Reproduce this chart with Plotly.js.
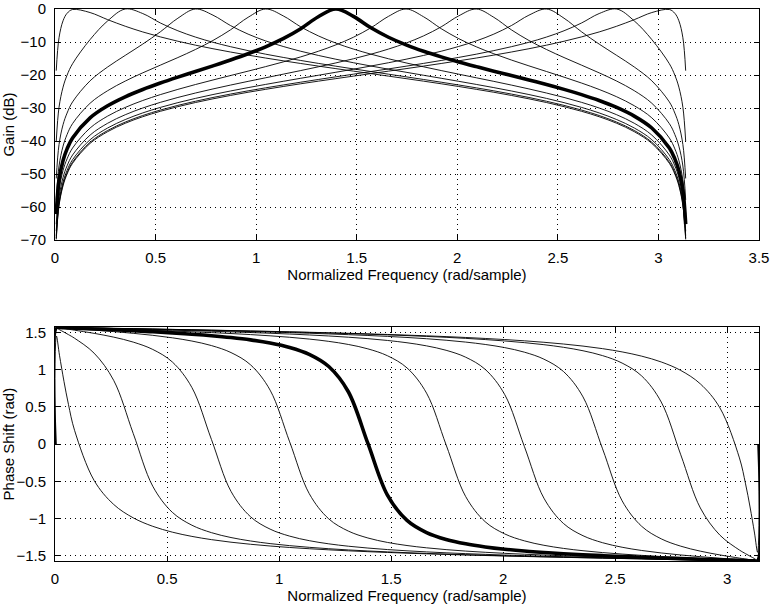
<!DOCTYPE html>
<html>
<head>
<meta charset="utf-8">
<script src="https://cdn.plot.ly/plotly-3.0.1.min.js"></script>
<style>html,body{margin:0;padding:0;background:#fff;}#chart{width:770px;height:604px;}</style>
</head>
<body>
<div id="chart"></div>
<script>
// Normalized frequency samples (rad/sample)
const freq = [0, 0.00614, 0.02, 0.04, 0.06, 0.0873, 0.1745, 0.2618, 0.3491, 0.4363, 0.5236, 0.6109, 0.6981, 0.7854, 0.8727, 0.9599, 1.0472, 1.1345, 1.2217, 1.3090, 1.3963, 1.4835, 1.5708, 1.6581, 1.7453, 1.8326, 1.9199, 2.0071, 2.0944, 2.1817, 2.2689, 2.3562, 2.4435, 2.5307, 2.6180, 2.7053, 2.7925, 2.8798, 2.9671, 3.0543, 3.0816, 3.1016, 3.1216, 3.1355, 3.1416];

// Gain (dB) of the ten band-pass filters (null = -Inf, not drawn)
const gainK0 = [null, -18.69, -8.71, -3.56, -1.31, -0.15, -1.08, -3.23, -5.22, -6.95, -8.45, -9.77, -10.96, -12.04, -13.04, -13.97, -14.86, -15.70, -16.51, -17.30, -18.07, -18.83, -19.58, -20.34, -21.10, -21.87, -22.66, -23.48, -24.34, -25.23, -26.19, -27.22, -28.34, -29.59, -31.00, -32.64, -34.63, -37.17, -40.72, -46.76, -50.02, -53.54, -59.56, -69.82, null];
const gainK1 = [null, -40.06, -29.77, -23.68, -20.05, -16.58, -9.26, -3.60, 0.00, -1.38, -4.23, -6.60, -8.50, -10.08, -11.42, -12.61, -13.69, -14.67, -15.60, -16.48, -17.33, -18.15, -18.95, -19.75, -20.55, -21.36, -22.18, -23.02, -23.89, -24.80, -25.77, -26.81, -27.95, -29.20, -30.62, -32.27, -34.27, -36.81, -40.36, -46.40, -49.66, -53.18, -59.20, -69.46, null];
const gainK2 = [null, -51.34, -41.08, -35.06, -31.54, -28.16, -21.76, -17.57, -14.06, -10.63, -6.92, -2.79, 0.00, -1.87, -5.02, -7.61, -9.67, -11.35, -12.80, -14.07, -15.22, -16.28, -17.28, -18.24, -19.17, -20.08, -20.99, -21.91, -22.85, -23.82, -24.84, -25.92, -27.09, -28.37, -29.82, -31.49, -33.50, -36.05, -39.61, -45.66, -48.92, -52.44, -58.46, -68.72, null];
const gainK3 = [null, -57.84, -47.58, -41.56, -38.04, -34.73, -28.55, -24.75, -21.84, -19.34, -17.02, -14.71, -12.27, -9.54, -6.31, -2.52, 0.00, -2.08, -5.41, -8.14, -10.33, -12.14, -13.69, -15.08, -16.34, -17.52, -18.65, -19.75, -20.84, -21.93, -23.05, -24.22, -25.46, -26.80, -28.29, -30.00, -32.04, -34.62, -38.20, -44.25, -47.52, -51.04, -57.06, -67.32, null];
const gainK4 = [null, -62.17, -51.91, -45.89, -42.37, -39.09, -32.98, -29.31, -26.60, -24.38, -22.44, -20.65, -18.94, -17.23, -15.46, -13.57, -11.45, -8.98, -5.96, -2.36, 0.00, -2.22, -5.69, -8.56, -10.87, -12.81, -14.51, -16.04, -17.46, -18.83, -20.16, -21.51, -22.89, -24.35, -25.94, -27.73, -29.83, -32.45, -36.06, -42.13, -45.40, -48.92, -54.94, -65.20, null];
const gainK5 = [null, -65.20, -54.94, -48.92, -45.40, -42.13, -36.06, -32.45, -29.83, -27.73, -25.94, -24.35, -22.89, -21.51, -20.16, -18.83, -17.46, -16.04, -14.51, -12.81, -10.87, -8.56, -5.69, -2.22, 0.00, -2.36, -5.96, -8.98, -11.45, -13.57, -15.46, -17.23, -18.94, -20.65, -22.44, -24.38, -26.60, -29.31, -32.98, -39.09, -42.37, -45.89, -51.91, -62.17, null];
const gainK6 = [null, -67.32, -57.06, -51.04, -47.52, -44.25, -38.20, -34.62, -32.04, -30.00, -28.29, -26.80, -25.46, -24.22, -23.05, -21.93, -20.84, -19.75, -18.65, -17.52, -16.34, -15.08, -13.69, -12.14, -10.33, -8.14, -5.41, -2.08, 0.00, -2.52, -6.31, -9.54, -12.27, -14.71, -17.02, -19.34, -21.84, -24.75, -28.55, -34.73, -38.04, -41.56, -47.58, -57.84, null];
const gainK7 = [null, -68.72, -58.46, -52.44, -48.92, -45.66, -39.61, -36.05, -33.50, -31.49, -29.82, -28.37, -27.09, -25.92, -24.84, -23.82, -22.85, -21.91, -20.99, -20.08, -19.17, -18.24, -17.28, -16.28, -15.22, -14.07, -12.80, -11.35, -9.67, -7.61, -5.02, -1.87, 0.00, -2.79, -6.92, -10.63, -14.06, -17.57, -21.76, -28.16, -31.54, -35.06, -41.08, -51.34, null];
const gainK8 = [null, -69.46, -59.20, -53.18, -49.66, -46.40, -40.36, -36.81, -34.27, -32.27, -30.62, -29.20, -27.95, -26.81, -25.77, -24.80, -23.89, -23.02, -22.18, -21.36, -20.55, -19.75, -18.95, -18.15, -17.33, -16.48, -15.60, -14.67, -13.69, -12.61, -11.42, -10.08, -8.50, -6.60, -4.23, -1.38, 0.00, -3.60, -9.26, -16.58, -20.05, -23.68, -29.77, -40.06, null];
const gainK9 = [null, -69.82, -59.56, -53.54, -50.02, -46.76, -40.72, -37.17, -34.63, -32.64, -31.00, -29.59, -28.34, -27.22, -26.19, -25.23, -24.34, -23.48, -22.66, -21.87, -21.10, -20.34, -19.58, -18.83, -18.07, -17.30, -16.51, -15.70, -14.86, -13.97, -13.04, -12.04, -10.96, -9.77, -8.45, -6.95, -5.22, -3.23, -1.08, -0.15, -1.31, -3.56, -8.71, -18.69, null];

// Phase shift (rad) of the same filters
const phaseK0 = [0, 1.4543, 1.1952, 0.8444, 0.5344, 0.1858, -0.4876, -0.8102, -0.9907, -1.1046, -1.1829, -1.2400, -1.2836, -1.3180, -1.3460, -1.3693, -1.3890, -1.4059, -1.4207, -1.4338, -1.4455, -1.4561, -1.4656, -1.4744, -1.4825, -1.4901, -1.4971, -1.5038, -1.5100, -1.5160, -1.5217, -1.5272, -1.5325, -1.5376, -1.5426, -1.5475, -1.5522, -1.5569, -1.5616, -1.5662, -1.5676, -1.5687, -1.5698, -1.5705, 0];
const phaseK1 = [0, 1.5610, 1.5387, 1.5060, 1.4723, 1.4236, 1.2232, 0.8579, 0.1436, -0.5661, -0.9168, -1.0897, -1.1898, -1.2553, -1.3018, -1.3369, -1.3645, -1.3870, -1.4058, -1.4219, -1.4358, -1.4480, -1.4589, -1.4688, -1.4778, -1.4860, -1.4937, -1.5008, -1.5075, -1.5139, -1.5199, -1.5256, -1.5311, -1.5365, -1.5417, -1.5467, -1.5516, -1.5565, -1.5613, -1.5661, -1.5675, -1.5686, -1.5697, -1.5705, 0];
const phaseK2 = [0, 1.5681, 1.5620, 1.5532, 1.5444, 1.5318, 1.4892, 1.4385, 1.3716, 1.2729, 1.1043, 0.7610, 0.0626, -0.6351, -0.9766, -1.1423, -1.2366, -1.2974, -1.3400, -1.3719, -1.3968, -1.4170, -1.4339, -1.4482, -1.4607, -1.4718, -1.4817, -1.4907, -1.4989, -1.5065, -1.5136, -1.5203, -1.5267, -1.5327, -1.5386, -1.5442, -1.5497, -1.5551, -1.5604, -1.5656, -1.5672, -1.5684, -1.5696, -1.5704, 0];
const phaseK3 = [0, 1.5695, 1.5666, 1.5624, 1.5583, 1.5525, 1.5334, 1.5129, 1.4898, 1.4628, 1.4294, 1.3859, 1.3249, 1.2308, 1.0661, 0.7260, 0.0304, -0.6651, -1.0047, -1.1687, -1.2616, -1.3211, -1.3627, -1.3937, -1.4179, -1.4375, -1.4538, -1.4677, -1.4799, -1.4907, -1.5004, -1.5093, -1.5174, -1.5251, -1.5323, -1.5392, -1.5458, -1.5522, -1.5585, -1.5647, -1.5666, -1.5680, -1.5694, -1.5704, 0];
const phaseK4 = [0, 1.5700, 1.5683, 1.5657, 1.5632, 1.5597, 1.5483, 1.5366, 1.5240, 1.5104, 1.4952, 1.4779, 1.4576, 1.4328, 1.4014, 1.3595, 1.2999, 1.2071, 1.0433, 0.7042, 0.0093, -0.6856, -1.0246, -1.1882, -1.2807, -1.3400, -1.3815, -1.4123, -1.4365, -1.4561, -1.4725, -1.4866, -1.4990, -1.5102, -1.5203, -1.5297, -1.5385, -1.5470, -1.5551, -1.5630, -1.5654, -1.5672, -1.5690, -1.5703, 0];
const phaseK5 = [0, 1.5703, 1.5690, 1.5672, 1.5654, 1.5630, 1.5551, 1.5470, 1.5385, 1.5297, 1.5203, 1.5102, 1.4990, 1.4866, 1.4725, 1.4561, 1.4365, 1.4123, 1.3815, 1.3400, 1.2807, 1.1882, 1.0246, 0.6856, -0.0093, -0.7042, -1.0433, -1.2071, -1.2999, -1.3595, -1.4014, -1.4328, -1.4576, -1.4779, -1.4952, -1.5104, -1.5240, -1.5366, -1.5483, -1.5597, -1.5632, -1.5657, -1.5683, -1.5700, 0];
const phaseK6 = [0, 1.5704, 1.5694, 1.5680, 1.5666, 1.5647, 1.5585, 1.5522, 1.5458, 1.5392, 1.5323, 1.5251, 1.5174, 1.5093, 1.5004, 1.4907, 1.4799, 1.4677, 1.4538, 1.4375, 1.4179, 1.3937, 1.3627, 1.3211, 1.2616, 1.1687, 1.0047, 0.6651, -0.0304, -0.7260, -1.0661, -1.2308, -1.3249, -1.3859, -1.4294, -1.4628, -1.4898, -1.5129, -1.5334, -1.5525, -1.5583, -1.5624, -1.5666, -1.5695, 0];
const phaseK7 = [0, 1.5704, 1.5696, 1.5684, 1.5672, 1.5656, 1.5604, 1.5551, 1.5497, 1.5442, 1.5386, 1.5327, 1.5267, 1.5203, 1.5136, 1.5065, 1.4989, 1.4907, 1.4817, 1.4718, 1.4607, 1.4482, 1.4339, 1.4170, 1.3968, 1.3719, 1.3400, 1.2974, 1.2366, 1.1423, 0.9766, 0.6351, -0.0626, -0.7610, -1.1043, -1.2729, -1.3716, -1.4385, -1.4892, -1.5318, -1.5444, -1.5532, -1.5620, -1.5681, 0];
const phaseK8 = [0, 1.5705, 1.5697, 1.5686, 1.5675, 1.5661, 1.5613, 1.5565, 1.5516, 1.5467, 1.5417, 1.5365, 1.5311, 1.5256, 1.5199, 1.5139, 1.5075, 1.5008, 1.4937, 1.4860, 1.4778, 1.4688, 1.4589, 1.4480, 1.4358, 1.4219, 1.4058, 1.3870, 1.3645, 1.3369, 1.3018, 1.2553, 1.1898, 1.0897, 0.9168, 0.5661, -0.1436, -0.8579, -1.2232, -1.4236, -1.4723, -1.5060, -1.5387, -1.5610, 0];
const phaseK9 = [0, 1.5705, 1.5698, 1.5687, 1.5676, 1.5662, 1.5616, 1.5569, 1.5522, 1.5475, 1.5426, 1.5376, 1.5325, 1.5272, 1.5217, 1.5160, 1.5100, 1.5038, 1.4971, 1.4901, 1.4825, 1.4744, 1.4656, 1.4561, 1.4455, 1.4338, 1.4207, 1.4059, 1.3890, 1.3693, 1.3460, 1.3180, 1.2836, 1.2400, 1.1829, 1.1046, 0.9907, 0.8102, 0.4876, -0.1858, -0.5344, -0.8444, -1.1952, -1.4543, 0];

const highlighted = 4; // filter drawn with the heavy line

// Tick values / labels
const gainTicks = [0, -10, -20, -30, -40, -50, -60, -70];
const freqTicksTop = [0, 0.5, 1, 1.5, 2, 2.5, 3, 3.5];
const freqTicksBottom = [0, 0.5, 1, 1.5, 2, 2.5, 3];
const phaseTicks = [-1.5, -1, -0.5, 0, 0.5, 1, 1.5];

const gains = [gainK0, gainK1, gainK2, gainK3, gainK4, gainK5, gainK6, gainK7, gainK8, gainK9];
const phases = [phaseK0, phaseK1, phaseK2, phaseK3, phaseK4, phaseK5, phaseK6, phaseK7, phaseK8, phaseK9];

const traces = [];
const order = [];
for (let k = 0; k < gains.length; k++) if (k !== highlighted) order.push(k);
order.push(highlighted);
order.forEach(k => {
  const thick = (k === highlighted);
  const line = {color: '#000', width: thick ? 3.6 : 0.9, shape: 'spline', smoothing: 1};
  traces.push({x: freq, y: gains[k], type: 'scatter', mode: 'lines', line: line,
               xaxis: 'x', yaxis: 'y', hoverinfo: 'skip', showlegend: false, connectgaps: false});
  traces.push({x: freq, y: phases[k], type: 'scatter', mode: 'lines', line: line,
               xaxis: 'x2', yaxis: 'y2', hoverinfo: 'skip', showlegend: false});
});

const font = {family: 'Liberation Sans, Arial, Helvetica, sans-serif', size: 15, color: '#000'};
const axBase = {
  showline: true, linecolor: '#000', linewidth: 1, mirror: 'ticks',
  ticks: 'inside', ticklen: 5, tickwidth: 1, tickcolor: '#000',
  showgrid: true, gridcolor: '#000', gridwidth: 1, griddash: '1px,4px',
  zeroline: false, automargin: false, tickfont: font, ticklabeloverflow: 'allow'
};

const layout = {
  width: 770, height: 604,
  margin: {l: 55, r: 11, t: 9, b: 43},
  paper_bgcolor: '#fff', plot_bgcolor: '#fff',
  font: font,
  showlegend: false,
  xaxis: Object.assign({}, axBase, {
    domain: [0, 1], anchor: 'y', range: [0, 3.5],
    tickmode: 'array', tickvals: freqTicksTop, ticktext: freqTicksTop.map(String),
    ticklabelstandoff: 4,
    title: {text: 'Normalized Frequency (rad/sample)', font: font, standoff: 3}
  }),
  yaxis: Object.assign({}, axBase, {
    domain: [0.5815, 1], anchor: 'x', range: [-70, 0],
    tickmode: 'array', tickvals: gainTicks,
    ticklabelstandoff: 5,
    title: {text: 'Gain (dB)', font: font, standoff: 4}
  }),
  xaxis2: Object.assign({}, axBase, {
    domain: [0, 1], anchor: 'y2', range: [0, Math.PI],
    tickmode: 'array', tickvals: freqTicksBottom, ticktext: freqTicksBottom.map(String),
    ticklabelstandoff: 4,
    title: {text: 'Normalized Frequency (rad/sample)', font: font, standoff: 3}
  }),
  yaxis2: Object.assign({}, axBase, {
    domain: [0, 0.4234], anchor: 'x2', range: [-Math.PI / 2, Math.PI / 2],
    tickmode: 'array', tickvals: phaseTicks,
    ticklabelstandoff: 5,
    title: {text: 'Phase Shift (rad)', font: font, standoff: 4}
  })
};

Plotly.newPlot('chart', traces, layout, {staticPlot: true, displayModeBar: false});
</script>
</body>
</html>
